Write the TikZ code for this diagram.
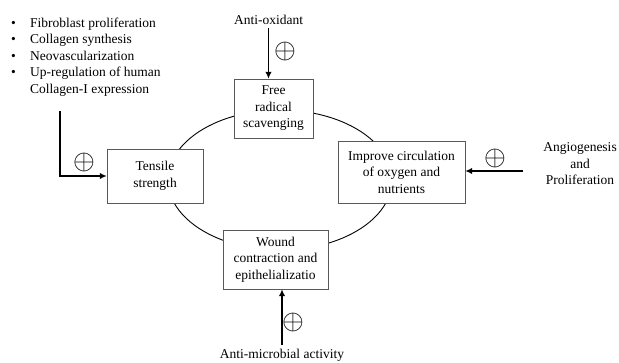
\documentclass[tikz,border=0pt]{standalone}
\usepackage{fontspec}
\setmainfont{Liberation Serif}
\usepackage{amsmath}
\usepackage{tikz}
\usetikzlibrary{arrows.meta}

\tikzset{every node/.style={font=\fontsize{13.5}{16.5}\selectfont},
box/.style={draw=black!65, fill=white, thin, align=center, inner sep=2pt},
plus/.style={font=\huge, inner sep=0pt}}

\begin{document}
\begin{tikzpicture}[x=1pt,y=-1pt,>={Latex[length=7pt,width=6.5pt]}]
\useasboundingbox (0,0) rectangle (619,362);
\draw[line width=0.9pt] (280,180) ellipse (112 and 70);

\node[box, minimum width=79, minimum height=59] (free) at (273.5,108.5) {Free\\radical\\scavenging};
\node[box, minimum width=96, minimum height=54] (tensile) at (155,176) {Tensile\\strength};
\node[box, minimum width=127, minimum height=62] (improve) at (401.5,172) {Improve circulation\\of oxygen and\\nutrients};
\node[box, minimum width=105, minimum height=59] (wound) at (275.5,259.5) {Wound\\contraction and\\epithelializatio};

\node (antiox) at (268.5,20) {Anti-oxidant};
\node[align=center] (angio) at (580,164) {Angiogenesis\\and\\Proliferation};
\node (micro) at (282,355) {Anti-microbial activity};
\node[anchor=north west, inner sep=0pt] (list) at (11,15.5) {\begin{tabular}{@{}p{19pt}@{}l@{}}
\textbullet & Fibroblast proliferation\\
\textbullet & Collagen synthesis\\
\textbullet & Neovascularization\\
\textbullet & Up-regulation of human\\
 & Collagen-I expression
\end{tabular}};

\coordinate (bend) at (60,111);
\coordinate (angstart) at (523,171);
\draw[->, line width=1.6pt] (antiox.south) -- (antiox.south |- free.north);
\draw[->, line width=1.6pt] (bend) |- (tensile.west);
\draw[->, line width=1.6pt] (angstart) -- (improve.east |- angstart);
\draw[->, line width=1.6pt] (micro.north) -- (micro.north |- wound.south);

\node[plus] (p1) at (285,51) {\scalebox{1.35}{$\oplus$}};
\node[plus] (p2) at (84,162) {\scalebox{1.35}{$\oplus$}};
\node[plus] (p3) at (495,158) {\scalebox{1.35}{$\oplus$}};
\node[plus] (p4) at (293,322) {\scalebox{1.35}{$\oplus$}};
\end{tikzpicture}
\end{document}
